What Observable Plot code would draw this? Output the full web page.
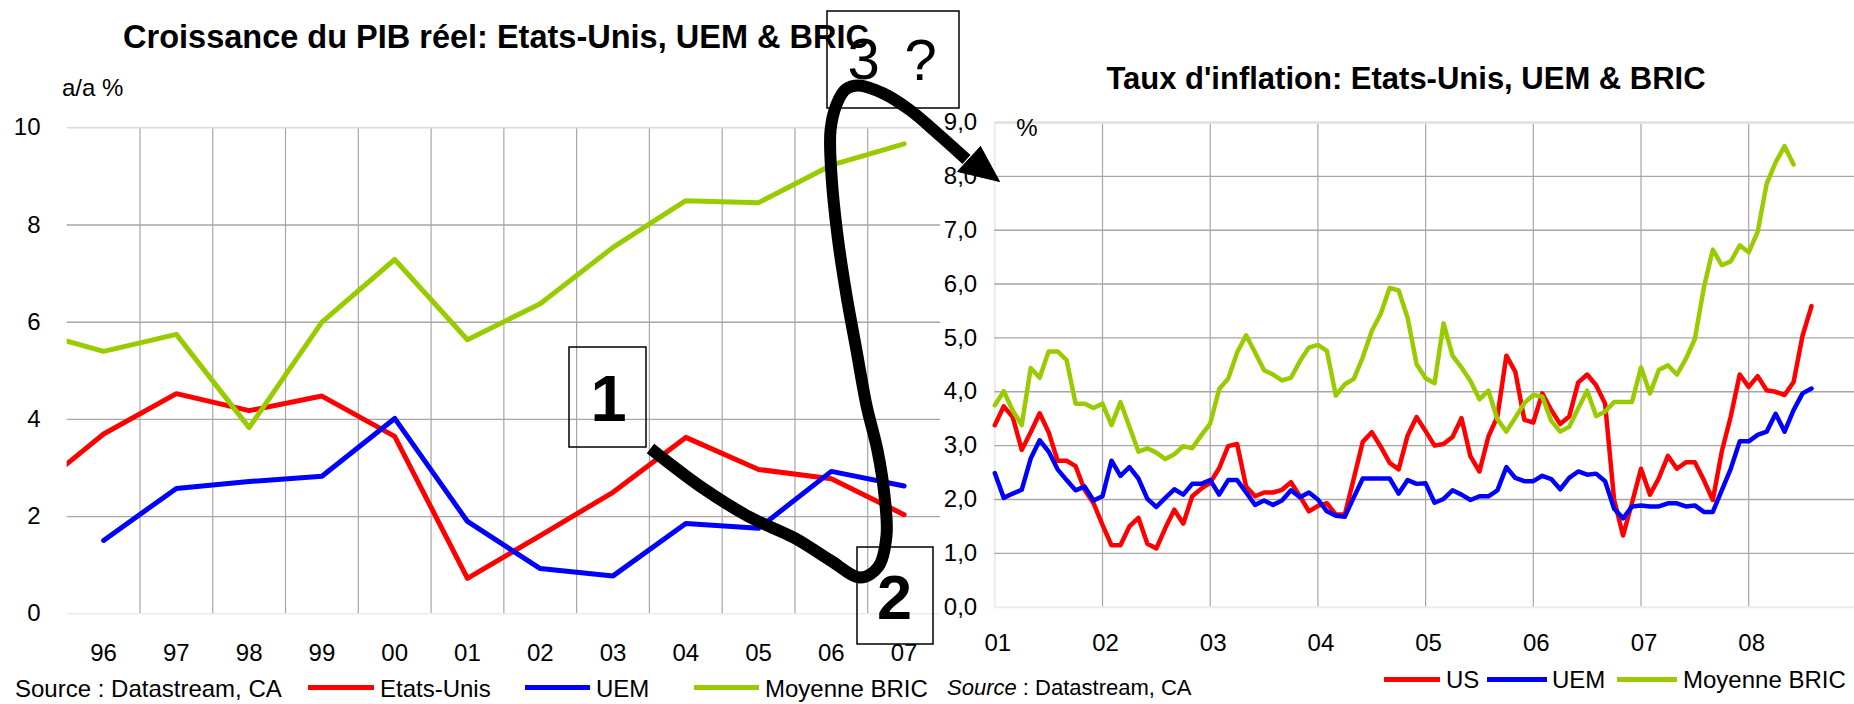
<!DOCTYPE html>
<html><head><meta charset="utf-8">
<script src="https://cdn.jsdelivr.net/npm/d3@7"></script>
<script src="https://cdn.jsdelivr.net/npm/@observablehq/plot@0.6"></script>
<style>
html,body{margin:0;padding:0;background:#fff;}
#root{position:relative;width:1854px;height:704px;overflow:hidden;font-family:"Liberation Sans",Arial,sans-serif;color:#000;background:#fff;}
#root svg{position:absolute;top:0;}
.t{position:absolute;white-space:nowrap;line-height:1;}
.sw{position:absolute;height:5px;}
</style></head><body><div id="root"></div>
<script>
// ---------- Left chart: real GDP growth, annual (a/a %) ----------
const gdpYears = [1995, 1996, 1997, 1998, 1999, 2000, 2001, 2002, 2003, 2004, 2005, 2006, 2007];
const gdpUS    = [2.48, 3.70, 4.53, 4.18, 4.48, 3.65, 0.73, 1.61, 2.50, 3.63, 2.97, 2.78, 2.04];
const gdpUEM   = [null, 1.51, 2.58, 2.72, 2.83, 4.02, 1.90, 0.93, 0.78, 1.86, 1.76, 2.93, 2.63];
const gdpBRIC  = [5.82, 5.40, 5.75, 3.83, 6.00, 7.29, 5.64, 6.38, 7.54, 8.50, 8.46, 9.23, 9.67];
const gdpYTicks = [0, 2, 4, 6, 8, 10];
const gdpXTicks = [1996, 1997, 1998, 1999, 2000, 2001, 2002, 2003, 2004, 2005, 2006, 2007];

// ---------- Right chart: inflation, monthly from Jan 2001 (%) ----------
const cpiStart = 2001;
const cpiUS = [3.38,3.73,3.53,2.92,3.25,3.60,3.25,2.72,2.72,2.62,2.18,1.93,
  1.53,1.15,1.15,1.50,1.66,1.18,1.09,1.47,1.81,1.55,2.06,2.20,
  2.31,2.58,2.99,3.03,2.24,2.06,2.13,2.13,2.18,2.32,2.06,1.78,
  1.88,1.93,1.72,1.72,2.39,3.07,3.25,2.98,2.68,2.56,3.19,3.53,
  3.27,3.00,3.03,3.16,3.51,2.80,2.52,3.17,3.54,4.67,4.37,3.48,
  3.43,3.97,3.66,3.40,3.54,4.17,4.32,4.12,3.78,2.00,1.33,1.94,
  2.57,2.09,2.40,2.81,2.57,2.69,2.69,2.36,1.99,2.89,3.54,4.32,
  4.09,4.29,4.03,4.00,3.94,4.18,5.04,5.59];
const cpiUEM = [2.49,2.03,2.11,2.18,2.76,3.10,2.89,2.56,2.36,2.17,2.24,1.98,
  2.06,2.72,2.44,2.60,2.39,2.01,1.86,2.03,2.19,2.09,2.29,2.29,
  2.36,2.09,2.36,2.36,2.13,1.90,1.98,1.90,1.98,2.17,2.04,2.13,
  2.00,1.78,1.70,1.68,2.04,2.39,2.39,2.39,2.39,2.11,2.36,2.29,
  2.30,1.94,2.01,2.17,2.09,1.99,2.06,2.06,2.17,2.60,2.40,2.34,
  2.34,2.44,2.38,2.19,2.40,2.52,2.46,2.48,2.34,1.83,1.65,1.87,
  1.89,1.87,1.87,1.93,1.93,1.87,1.89,1.77,1.77,2.17,2.57,3.08,
  3.08,3.20,3.26,3.59,3.26,3.66,3.97,4.06];
const cpiBRIC = [3.75,4.01,3.65,3.38,4.44,4.26,4.75,4.75,4.59,3.78,3.78,3.70,
  3.78,3.38,3.81,3.35,2.89,2.95,2.87,2.75,2.84,2.99,2.95,3.19,
  3.41,4.05,4.24,4.73,5.05,4.73,4.40,4.32,4.21,4.26,4.57,4.82,
  4.87,4.76,3.93,4.14,4.24,4.64,5.13,5.45,5.93,5.88,5.37,4.51,
  4.25,4.16,5.27,4.67,4.45,4.20,3.86,4.02,3.49,3.26,3.52,3.79,
  3.94,3.91,3.46,3.26,3.35,3.69,4.02,3.55,3.63,3.81,3.81,3.81,
  4.45,3.97,4.41,4.49,4.32,4.61,4.98,5.93,6.64,6.35,6.42,6.72,
  6.59,6.97,7.86,8.26,8.56,8.22];
const cpiYTicks = [0,1,2,3,4,5,6,7,8,9];
const cpiXTicks = [2001,2002,2003,2004,2005,2006,2007,2008];

// ---------- Texts ----------
const title1 = "Croissance du PIB réel: Etats-Unis, UEM & BRIC";
const title2 = "Taux d'inflation: Etats-Unis, UEM & BRIC";
const unit1 = "a/a %";
const unit2 = "%";
const sourceText = " : Datastream, CA";
const legend1 = ["Etats-Unis", "UEM", "Moyenne BRIC"];
const legend2 = ["US", "UEM", "Moyenne BRIC"];
const colors = ["#ff0000", "#0000ff", "#99cc00"];

// ---------- Annotation overlay (page pixel space) ----------
const annoBoxes = [
  {x1: 569, x2: 646, y1: 347, y2: 447},
  {x1: 857, x2: 933, y1: 547, y2: 644},
  {x1: 827, x2: 959, y1: 11, y2: 108}
];
const annoBold = [{x: 608, y: 400, t: "1", s: 65}, {x: 894, y: 598, t: "2", s: 63}];
const annoReg = [{x: 863, y: 60, t: "3", s: 58}, {x: 920, y: 61, t: "?", s: 58}];
const annoCurve = [[650,448],[700,486],[748,516],[795,538],[830,560],[860,577],[878,566],[886,535],[884,495],[877,450],[866,405],[856,350],[846,295],[837,235],[831,175],[830,130],[836,104],[845,89],[858,85],[883,93],[910,110],[937,133],[966,159]];
const annoHead = [[980,146],[999,181],[957,171],[980,146]];

// ---------- Build ----------
const root = document.getElementById("root");
const FONT = '"Liberation Sans", Arial, sans-serif';
const baseStyle = {background: "transparent", overflow: "visible", maxWidth: "none", fontFamily: FONT, fontSize: "24px", color: "#000"};

const rowsOf = (xs, ys) => xs.map((x, i) => ({x, y: ys[i]})).filter(d => d.y != null);

// Left chart
const L = {left: 66.7, right: 940, top: 127.3, bottom: 613.3, W: 945};
const leftPlot = Plot.plot({
  width: L.W, height: 704,
  marginLeft: L.left, marginRight: L.W - L.right, marginTop: L.top, marginBottom: 704 - L.bottom,
  x: {domain: [1995.5, 2007.5], label: null},
  y: {domain: [0, 10], label: null},
  style: baseStyle,
  marks: [
    Plot.ruleX(gdpXTicks.slice(0, -1).map(d => d + 0.5), {stroke: "#a6a6a6", strokeWidth: 1.2}),
    Plot.ruleY(gdpYTicks.slice(1, -1), {stroke: "#a6a6a6", strokeWidth: 1.4}),
    Plot.ruleY([10], {stroke: "#dadada", strokeWidth: 1.4}),
    Plot.ruleY([0], {stroke: "#ececec", strokeWidth: 1.6}),
    Plot.axisY({ticks: gdpYTicks, tickSize: 0, tickPadding: 26.7, fontSize: 24, label: null}),
    Plot.axisX({ticks: gdpXTicks, tickSize: 0, tickPadding: 30, fontSize: 24, label: null, tickFormat: d => String(d).slice(2)}),
    Plot.line(rowsOf(gdpYears, gdpUS), {x: "x", y: "y", stroke: colors[0], strokeWidth: 5, clip: true}),
    Plot.line(rowsOf(gdpYears, gdpUEM), {x: "x", y: "y", stroke: colors[1], strokeWidth: 5, clip: true}),
    Plot.line(rowsOf(gdpYears, gdpBRIC), {x: "x", y: "y", stroke: colors[2], strokeWidth: 5, clip: true})
  ]
});
leftPlot.style.left = "0px";
root.appendChild(leftPlot);

// Right chart
const R = {x0: 945, left: 994.3, right: 1854, top: 122, bottom: 606.7};
const perYear = 107.7;
const monthX = i => cpiStart + i / 12;
const rightPlot = Plot.plot({
  width: R.right - R.x0, height: 704,
  marginLeft: R.left - R.x0, marginRight: 0, marginTop: R.top, marginBottom: 704 - R.bottom,
  x: {domain: [2001, 2001 + (R.right - R.left) / perYear], label: null},
  y: {domain: [0, 9], label: null},
  style: baseStyle,
  marks: [
    Plot.ruleX([2001], {stroke: "#ececec", strokeWidth: 2}),
    Plot.ruleX(cpiXTicks.slice(1), {stroke: "#a6a6a6", strokeWidth: 1.2}),
    Plot.ruleY(cpiYTicks.slice(1, -1), {stroke: "#a6a6a6", strokeWidth: 1.4}),
    Plot.ruleY([9], {stroke: "#e3e3e3", strokeWidth: 3}),
    Plot.ruleY([0], {stroke: "#ececec", strokeWidth: 2}),
    Plot.axisY({ticks: cpiYTicks, tickSize: 0, tickPadding: 17.6, fontSize: 24, label: null, tickFormat: d => d.toFixed(1).replace(".", ",")}),
    Plot.axisX({ticks: cpiXTicks, tickSize: 0, tickPadding: 27, dx: 3, fontSize: 24, label: null, tickFormat: d => String(d).slice(2)}),
    Plot.line(cpiUS.map((y, i) => ({x: monthX(i), y})), {x: "x", y: "y", stroke: colors[0], strokeWidth: 4.5}),
    Plot.line(cpiUEM.map((y, i) => ({x: monthX(i), y})), {x: "x", y: "y", stroke: colors[1], strokeWidth: 4.5}),
    Plot.line(cpiBRIC.map((y, i) => ({x: monthX(i), y})), {x: "x", y: "y", stroke: colors[2], strokeWidth: 4.5})
  ]
});
rightPlot.style.left = R.x0 + "px";
root.appendChild(rightPlot);

// HTML texts
function text(str, x, cy, size, opts = {}) {
  const el = document.createElement("div");
  el.className = "t";
  el.innerHTML = str;
  el.style.fontSize = size + "px";
  el.style.top = (cy - 0.4885 * size) + "px";
  if (opts.center) { el.style.left = x + "px"; el.style.transform = "translateX(-50%)"; }
  else el.style.left = x + "px";
  if (opts.bold) el.style.fontWeight = "bold";
  root.appendChild(el);
  return el;
}
function swatch(x1, x2, cy, color) {
  const el = document.createElement("div");
  el.className = "sw";
  el.style.left = x1 + "px";
  el.style.width = (x2 - x1) + "px";
  el.style.top = (cy - 2.5) + "px";
  el.style.background = color;
  root.appendChild(el);
}
text(title1, 496, 36.7, 32.5, {bold: true, center: true});
text(title2, 1406, 78, 31, {bold: true, center: true});
text(unit1, 62, 88, 24);
text(unit2, 1027, 128, 24, {center: true});

// left legend
text("Source" + sourceText, 15, 689, 24);
swatch(308, 374, 687, colors[0]); text(legend1[0], 380, 689, 24);
swatch(525, 590, 687, colors[1]); text(legend1[1], 596, 689, 24);
swatch(694, 759, 687, colors[2]); text(legend1[2], 765, 689, 24);
// right legend
text("<i>Source</i>" + sourceText, 947, 688, 22);
swatch(1384, 1440, 679, colors[0]); text(legend2[0], 1446, 680, 24);
swatch(1487, 1547, 679, colors[1]); text(legend2[1], 1552, 680, 24);
swatch(1617, 1677, 679, colors[2]); text(legend2[2], 1683, 680, 24);

// annotation overlay
const overlay = Plot.plot({
  width: 1854, height: 704, margin: 0,
  x: {domain: [0, 1854], range: [0, 1854], axis: null},
  y: {domain: [0, 704], range: [0, 704], axis: null},
  style: {background: "transparent", overflow: "visible", maxWidth: "none", fontFamily: FONT},
  marks: [
    Plot.rect(annoBoxes, {x1: "x1", x2: "x2", y1: "y1", y2: "y2", fill: "none", stroke: "black", strokeWidth: 1.5}),
    Plot.text(annoBold, {x: "x", y: "y", text: "t", fontSize: "s", fontWeight: "bold", fill: "black"}),
    Plot.text(annoReg, {x: "x", y: "y", text: "t", fontSize: "s", fill: "black"}),
    Plot.line(annoCurve, {x: d => d[0], y: d => d[1], curve: "catmull-rom", stroke: "black", strokeWidth: 12, strokeLinecap: "butt"}),
    Plot.line(annoHead, {x: d => d[0], y: d => d[1], fill: "black", stroke: "black", strokeWidth: 1, strokeLinejoin: "miter"})
  ]
});
overlay.style.left = "0px";
overlay.style.pointerEvents = "none";
root.appendChild(overlay);
</script></body></html>
